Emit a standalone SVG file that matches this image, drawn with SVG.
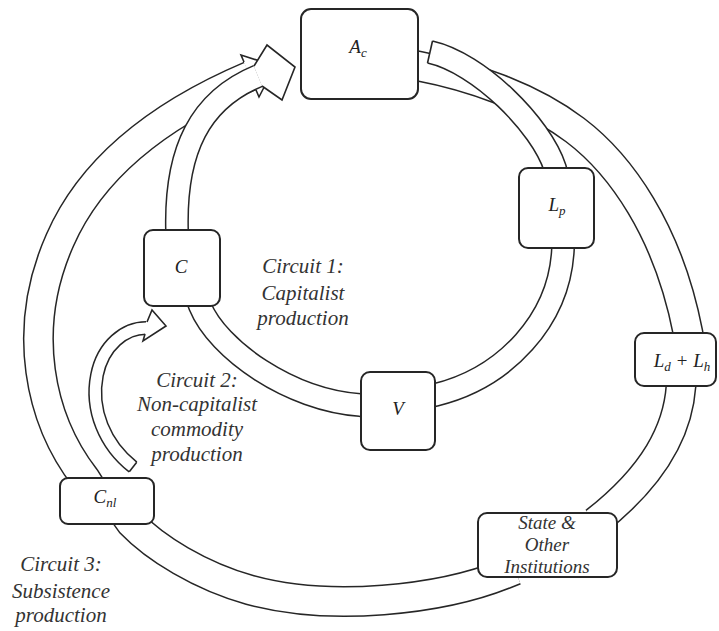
<svg xmlns="http://www.w3.org/2000/svg" width="719" height="631" viewBox="0 0 719 631">
<style>
.bo{fill:none;stroke:#262626;stroke-linecap:butt;stroke-linejoin:round}
.bi{fill:none;stroke:#fff;stroke-linecap:butt;stroke-linejoin:round}
.w3o{stroke-width:31}.w3i{stroke-width:28}
.w1o{stroke-width:24}.w1i{stroke-width:21}
.w2o{stroke-width:14}.w2i{stroke-width:11}
.head{fill:#fff;stroke:#262626;stroke-width:1.6;stroke-linejoin:miter}
.end{stroke:#262626;stroke-width:1.6;fill:none}
.box rect{fill:#fff;stroke:#262626;stroke-width:2}
.lbl{font-family:"Liberation Serif","Times New Roman",serif;font-style:italic;font-size:19px;fill:#222;text-anchor:middle}
.cap{font-family:"Liberation Serif","Times New Roman",serif;font-style:italic;font-size:21px;fill:#333;text-anchor:middle}
.st{font-family:"Liberation Serif","Times New Roman",serif;font-style:italic;font-size:19px;fill:#333;text-anchor:middle}
</style>
<defs>
<path id="p3a" d="M405,63.5 L418,66 C470,76 530,96 575,130 C620,164 668,230 688,333 L690,345"/>
<path id="p3b" d="M682,378 L681,386 C678,430 655,475 595,522"/>
<path id="p3c" d="M515,570 L505,574 C440,600 330,612 250,590 C200,576 155,548 131,523 L126,516"/>
<path id="p3d" d="M90,486 L85,478 C40,420 20,330 60,240 C95,160 170,110 250,76"/>
<path id="p1a" d="M177,240 L177,230 C175,150 200,100 258,76"/>
<path id="p1b" d="M430,52 C479,63 541,125 555,168 L557,176"/>
<path id="p1c" d="M563,240 L563,248 C560,320 505,378 435,395 L428,397"/>
<path id="p1d" d="M368,406 L360,405 C290,400 218,350 200,306 L197,298"/>
<path id="p2" d="M133,467 C105,445 90,410 97,375 C103,345 125,328 146,328"/>
</defs>
<g id="connectors">
<use href="#p3a" class="bo w3o"/><use href="#p3b" class="bo w3o"/><use href="#p3c" class="bo w3o"/><use href="#p3d" class="bo w3o"/>
<use href="#p3a" class="bi w3i"/><use href="#p3b" class="bi w3i"/><use href="#p3c" class="bi w3i"/><use href="#p3d" class="bi w3i"/>
<path class="head" d="M244,62 L241,55 L275,66 L259,97 L256,90"/>
<use href="#p1a" class="bo w1o"/><use href="#p1b" class="bo w1o"/><use href="#p1c" class="bo w1o"/><use href="#p1d" class="bo w1o"/>
<use href="#p1a" class="bi w1i"/><use href="#p1b" class="bi w1i"/><use href="#p1c" class="bi w1i"/><use href="#p1d" class="bi w1i"/>
<path class="head" d="M254,66 L267,45 L295,67 L282,100 L262,86"/>
<line class="end" x1="432.5" y1="41" x2="427.5" y2="63"/>
<use href="#p2" class="bo w2o"/><use href="#p2" class="bi w2i"/>
<line class="end" x1="136.7" y1="462.3" x2="129.3" y2="471.7"/>
<path class="head" d="M147,322 L152,310 L166,326 L143,341 L145,334"/>
</g>
<g id="node-Ac" class="box"><rect x="301" y="9" width="117" height="90" rx="10"/><text class="lbl" x="358" y="53">A<tspan font-size="13" dy="4">c</tspan></text></g>
<g id="node-Lp" class="box"><rect x="519" y="168" width="75" height="80" rx="9"/><text class="lbl" x="557" y="211">L<tspan font-size="13" dy="4">p</tspan></text></g>
<g id="node-C" class="box"><rect x="144" y="230" width="76" height="76" rx="9"/><text class="lbl" x="181" y="273">C</text></g>
<g id="node-V" class="box"><rect x="361" y="372" width="74" height="78" rx="9"/><text class="lbl" x="398" y="415">V</text></g>
<g id="node-LdLh" class="box"><rect x="635" y="333" width="81" height="53" rx="9"/><text class="lbl" x="682" y="367">L<tspan font-size="13" dy="4">d</tspan><tspan dy="-4"> + L</tspan><tspan font-size="13" dy="4">h</tspan></text></g>
<g id="node-Cnl" class="box"><rect x="60" y="478" width="94" height="46" rx="8"/><text class="lbl" x="105" y="503">C<tspan font-size="13" dy="4">nl</tspan></text></g>
<g id="node-State" class="box"><rect x="478" y="513" width="139" height="64" rx="9"/><text class="st" x="547" y="529">State &amp;</text><text class="st" x="547" y="551">Other</text><text class="st" x="547" y="573">Institutions</text></g>
<g id="labels">
<text class="cap" x="303" y="273">Circuit 1:</text><text class="cap" x="303" y="300">Capitalist</text><text class="cap" x="303" y="325">production</text>
<text class="cap" x="197" y="387">Circuit 2:</text><text class="cap" x="197" y="411">Non-capitalist</text><text class="cap" x="197" y="436">commodity</text><text class="cap" x="197" y="461">production</text>
<text class="cap" x="61" y="571">Circuit 3:</text><text class="cap" x="61" y="598">Subsistence</text><text class="cap" x="61" y="622">production</text>
</g>
</svg>
